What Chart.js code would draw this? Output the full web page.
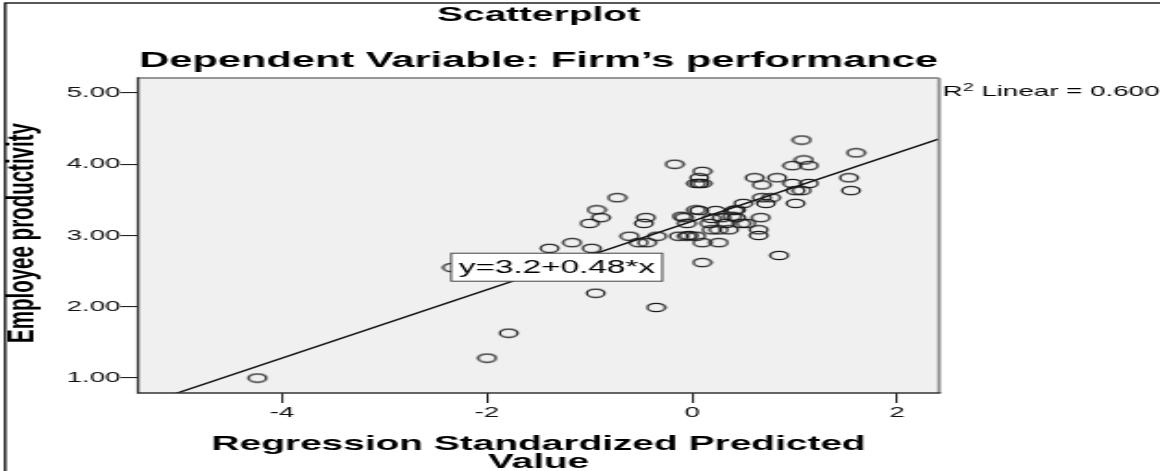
<!DOCTYPE html>
<html>
<head>
<meta charset="utf-8">
<script src="https://cdn.jsdelivr.net/npm/chart.js@4.4.1/dist/chart.umd.min.js"></script>
<style>
  body { margin: 0; background: #fff; overflow: hidden; }
  /* the reference picture is stretched sideways, so the whole canvas is too */
  #wrap { width: 627px; height: 471px; transform: scaleX(1.85); transform-origin: 0 0; }
</style>
</head>
<body>
<div id="wrap"><canvas id="chart"></canvas></div>
<script>
// regression standardized predicted value (x) vs employee productivity (y)
const xValues = [-4.24, -2.00, -1.79, -2.34, -0.94, -0.35, -1.39, -1.17, -0.98, -1.00,
  -0.93, -0.89, -0.73, -0.61, -0.52, -0.44, -0.34, -0.45, -0.47, -0.17,
  -0.13, -0.05, 0.04, -0.08, -0.05, 0.04, 0.10, 0.07, 0.04, 0.10,
  0.07, 0.10, 0.26, 0.10, 0.07, 0.23, 0.41, 0.19, 0.29, 0.43,
  0.17, 0.33, 0.48, 0.19, 0.36, 0.65, 0.65, 0.67, 0.50, 0.72,
  1.01, 0.68, 0.77, 0.68, 0.61, 0.83, 0.98, 1.14, 1.01, 1.07,
  0.98, 1.14, 1.09, 1.07, 1.60, 1.53, 1.55, 0.85, 0.26, 0.39,
  0.43, 0.53, -0.10, -0.03];
const yValues = [1.00, 1.28, 1.63, 2.55, 2.19, 1.99, 2.82, 2.90, 2.82, 3.17,
  3.36, 3.25, 3.53, 2.99, 2.90, 2.90, 2.99, 3.25, 3.17, 4.00,
  2.99, 2.99, 2.99, 3.25, 3.17, 3.36, 3.90, 3.81, 3.73, 3.73,
  3.73, 2.90, 2.90, 2.62, 3.35, 3.35, 3.35, 3.24, 3.25, 3.25,
  3.17, 3.17, 3.17, 3.08, 3.08, 3.08, 3.00, 3.25, 3.45, 3.45,
  3.45, 3.53, 3.53, 3.71, 3.81, 3.81, 3.73, 3.73, 3.63, 3.63,
  3.98, 3.98, 4.06, 4.34, 4.16, 3.81, 3.63, 2.72, 3.08, 3.27,
  3.36, 3.17, 3.27, 3.00];

const xTicks = [-4, -2, 0, 2];
const yTicks = [1, 2, 3, 4, 5];

const intercept = 3.2;
const slope = 0.48;
const rSquared = 0.600;

const xMin = -5.405, xMax = 2.41;
const yMin = 0.79, yMax = 5.21;

// where the equation label sits, in data units
const eqX = -1.32, eqY = 2.555;

const points = xValues.map((x, i) => ({ x: x, y: yValues[i] }));
const fitLine = [xMin, xMax].map(x => ({ x: x, y: intercept + slope * x }));

const FONT = "'Liberation Sans', Arial, sans-serif";

// hollow marker, a bit narrower than a circle because the canvas gets stretched
const marker = document.createElement('canvas');
marker.width = 12;
marker.height = 11;
const mctx = marker.getContext('2d');
mctx.strokeStyle = '#1a1a1a';
mctx.lineWidth = 1.25;
mctx.beginPath();
mctx.ellipse(6, 5.5, 4.8, 4.2, 0, 0, Math.PI * 2);
mctx.stroke();

function label(ctx, str, x, y, font, align) {
    ctx.font = font;
    ctx.textAlign = align || 'center';
    ctx.textBaseline = 'middle';
    ctx.fillStyle = '#000';
    ctx.fillText(str, x, y);
}

function seg(ctx, x1, y1, x2, y2, color, width) {
    ctx.strokeStyle = color;
    ctx.lineWidth = width;
    ctx.beginPath();
    ctx.moveTo(x1, y1);
    ctx.lineTo(x2, y2);
    ctx.stroke();
}

const decorations = {
    id: 'decorations',
    beforeDraw(chart) {
        const ctx = chart.ctx;
        const a = chart.chartArea;
        ctx.save();
        ctx.fillStyle = '#f0f0f0';
        ctx.fillRect(a.left, a.top, a.right - a.left, a.bottom - a.top);
        ctx.restore();
    },
    afterDraw(chart) {
        const ctx = chart.ctx;
        const a = chart.chartArea;
        const xs = chart.scales.x;
        const ys = chart.scales.y;
        const mid = (a.left + a.right) / 2;
        ctx.save();

        // outer frame
        ctx.strokeStyle = '#000';
        ctx.lineWidth = 1.3;
        ctx.strokeRect(2.8, 3, 700, 500);

        // plot frame
        seg(ctx, a.left, a.top, a.right, a.top, '#777', 1.6);
        seg(ctx, a.right, a.top, a.right, a.bottom, '#888', 1.8);
        seg(ctx, a.left, a.bottom, a.right + 0.9, a.bottom, '#333', 1.6);
        seg(ctx, a.left, a.top - 0.8, a.left, a.bottom + 0.8, '#333', 1.4);

        label(ctx, 'Scatterplot', mid, 15, 'bold 21px ' + FONT);
        label(ctx, 'Dependent Variable: Firm\u2019s performance', mid, 61, 'bold 22.5px ' + FONT);
        label(ctx, 'Regression Standardized Predicted', mid, 444, 'bold 21px ' + FONT);
        label(ctx, 'Value', mid, 462, 'bold 21px ' + FONT);

        ctx.save();
        ctx.translate(12, 233);
        ctx.rotate(-Math.PI / 2);
        label(ctx, 'Employee productivity', 0, 0, 'bold 20.5px ' + FONT);
        ctx.restore();

        // R squared note
        let rx = a.right + 2;
        const ry = ys.getPixelForValue(5) - 1;
        label(ctx, 'R', rx, ry, '15px ' + FONT, 'left');
        rx += ctx.measureText('R').width;
        label(ctx, '2', rx, ry - 4, '10.5px ' + FONT, 'left');
        rx += ctx.measureText('2').width;
        label(ctx, ' Linear = ' + rSquared.toFixed(3), rx, ry, '15px ' + FONT, 'left');

        // equation box
        const eq = 'y=' + intercept + '+' + slope + '*x';
        ctx.font = '18px ' + FONT;
        const w = ctx.measureText(eq).width + 8;
        const cx = xs.getPixelForValue(eqX);
        const cy = ys.getPixelForValue(eqY);
        ctx.fillStyle = '#fff';
        ctx.fillRect(cx - w / 2, cy - 14, w, 28);
        ctx.strokeStyle = '#444';
        ctx.lineWidth = 1;
        ctx.strokeRect(cx - w / 2, cy - 14, w, 28);
        label(ctx, eq, cx, cy + 1, '18px ' + FONT);

        ctx.restore();
    }
};

new Chart(document.getElementById('chart'), {
    data: {
        datasets: [{
            type: 'scatter',
            data: points,
            pointStyle: marker,
            pointRadius: 5
        }, {
            type: 'line',
            data: fitLine,
            borderColor: '#111',
            borderWidth: 1.4,
            pointRadius: 0
        }]
    },
    options: {
        responsive: true,
        maintainAspectRatio: false,
        animation: false,
        layout: { padding: { left: 0, top: 78, right: 119.4, bottom: 0 } },
        plugins: {
            legend: { display: false },
            tooltip: { enabled: false },
            title: { display: false }
        },
        scales: {
            x: {
                type: 'linear',
                min: xMin,
                max: xMax,
                afterBuildTicks: s => { s.ticks = xTicks.map(v => ({ value: v })); },
                afterFit: s => { s.height = 78; },
                grid: { drawOnChartArea: false, drawTicks: true, tickLength: 10, color: '#222', lineWidth: 1.1 },
                border: { display: false },
                ticks: {
                    padding: 1,
                    color: '#111',
                    font: { family: FONT, size: 15 },
                    callback: v => v
                }
            },
            y: {
                type: 'linear',
                min: yMin,
                max: yMax,
                afterBuildTicks: s => { s.ticks = yTicks.map(v => ({ value: v })); },
                afterFit: s => { s.width = 74.6; },
                grid: { drawOnChartArea: false, drawTicks: true, tickLength: 9.5, color: '#222', lineWidth: 1.1 },
                border: { display: false },
                ticks: {
                    padding: 0,
                    color: '#111',
                    font: { family: FONT, size: 15 },
                    callback: v => v.toFixed(2)
                }
            }
        }
    },
    plugins: [decorations]
});
</script>
</body>
</html>
